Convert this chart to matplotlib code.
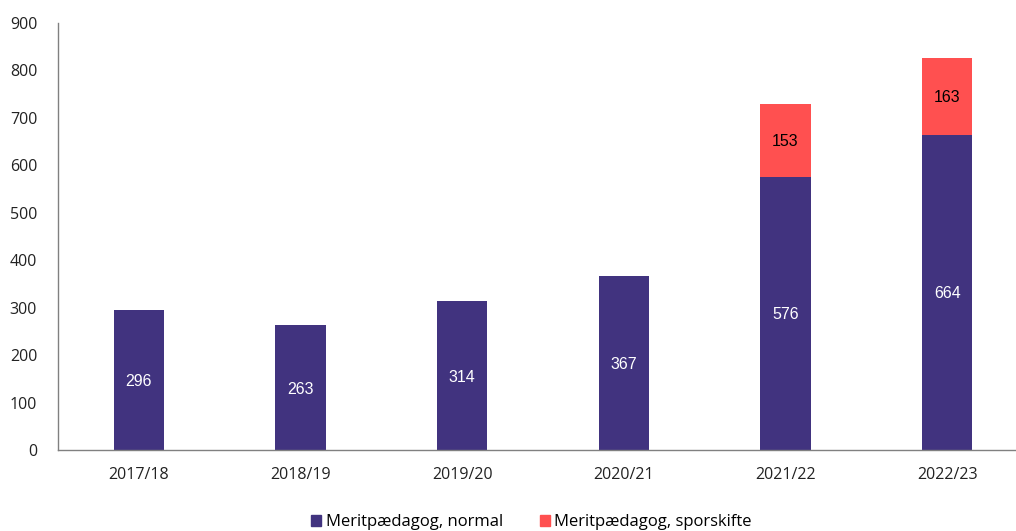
import matplotlib
matplotlib.use("Agg")
import matplotlib.pyplot as plt
from matplotlib.patches import Patch

years = ["2017/18", "2018/19", "2019/20", "2020/21", "2021/22", "2022/23"]
normal = [296, 263, 314, 367, 576, 664]
sporskifte = [0, 0, 0, 0, 153, 163]
legend_labels = ["Meritpædagog, normal", "Meritpædagog, sporskifte"]

c_normal = "#41337F"
c_spor = "#FF5050"
tick_font = "Open Sans"
label_font = "Liberation Sans"

fig = plt.figure(figsize=(10.16, 5.31), dpi=100)
ax = fig.add_axes([58/1016, 81/531, 1 - 58/1016, (450-23)/531])

x = list(range(len(years)))
w = 0.31
ax.bar(x, normal, width=w, color=c_normal, zorder=2)
ax.bar(x, sporskifte, width=w, bottom=normal, color=c_spor, zorder=2)

for i, (n, s) in enumerate(zip(normal, sporskifte)):
    ax.text(i, n / 2, str(n), ha="center", va="center_baseline", color="white",
            fontsize=11.5, family=label_font)
    if s > 0:
        ax.text(i, n + s / 2, str(s), ha="center", va="center_baseline", color="black",
                fontsize=11.5, family=label_font)

ax.set_ylim(0, 900)
ax.set_yticks(range(0, 901, 100))
ax.set_xlim(-0.5, 5.5 - 12/161.6)
ax.set_xticks(x)
ax.set_xticklabels(years)
for lab in ax.get_xticklabels() + ax.get_yticklabels():
    lab.set_family(tick_font)
    lab.set_fontsize(11.5)
    lab.set_color("#222222")
ax.tick_params(length=0)
ax.tick_params(axis="x", pad=12)
ax.tick_params(axis="y", pad=15)
for sp in ["top", "right"]:
    ax.spines[sp].set_visible(False)
for sp in ["left", "bottom"]:
    ax.spines[sp].set_color("#808080")
    ax.spines[sp].set_linewidth(1)

handles = [Patch(color=c_normal), Patch(color=c_spor)]
fig.legend(handles, legend_labels, loc="lower center", ncol=2, frameon=False,
           bbox_to_anchor=(0.523, -0.027), prop={"family": tick_font, "size": 12},
           handlelength=0.6, handleheight=0.6, handletextpad=0.25, columnspacing=2.2)

fig.savefig("out.png", dpi=100)
